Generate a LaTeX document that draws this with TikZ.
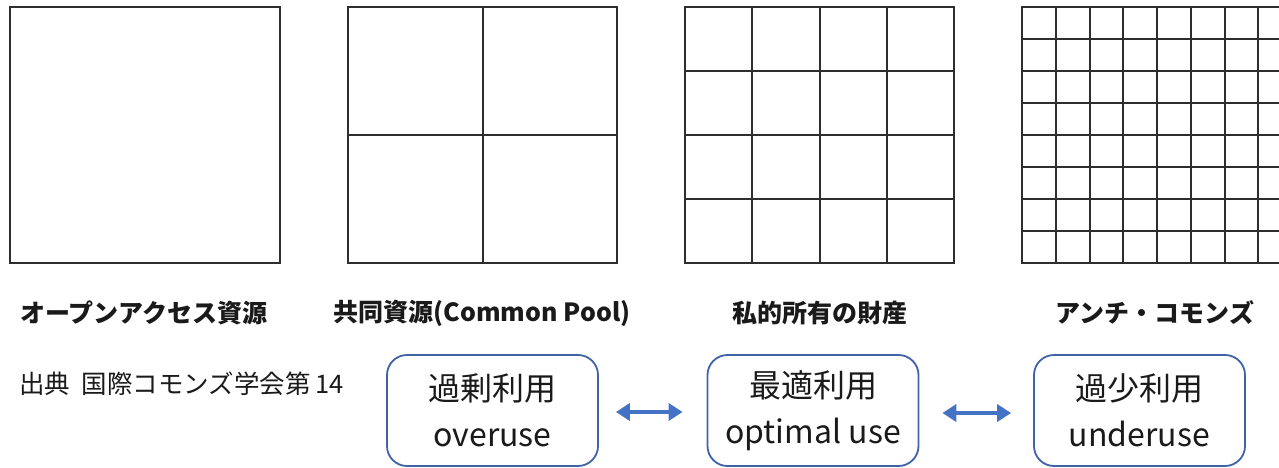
\documentclass[tikz,border=0pt]{standalone}
\usepackage{fontspec}
\setmainfont{Noto Sans CJK JP}
\usetikzlibrary{arrows.meta}
\definecolor{boxblue}{HTML}{3F62A8}
\definecolor{arrowblue}{HTML}{4472C4}
\definecolor{gridgray}{HTML}{2E2E2E}
\definecolor{txt}{HTML}{1A1A1A}
\tikzset{
  gridline/.style={draw=gridgray, line width=2pt},
  catlabel/.style={font=\fontsize{25}{27}\selectfont\bfseries, text=txt, inner sep=0pt},
  usebox/.style={draw=boxblue, line width=1.8pt, rounded corners=20pt, minimum width=211pt, minimum height=111pt, inner sep=0pt, align=center, text=txt, font=\fontsize{32}{46}\selectfont},
  dblarrow/.style={arrowblue, line width=3.5pt, {Triangle[length=14pt,width=17pt]}-{Triangle[length=14pt,width=17pt]}},
}
\begin{document}
\begin{tikzpicture}[x=1pt,y=-1pt]
\useasboundingbox (0,0) rectangle (1279,468);
% grids
\draw[gridline] (10,7) rectangle (280,263);
\draw[gridline] (348,7) rectangle (617,263);
\draw[gridline] (482.5,7) -- (482.5,263);
\draw[gridline] (348,135) -- (617,135);
\draw[gridline] (685,7) rectangle (954,263);
\foreach \i in {1,2,3} {
  \draw[gridline] ({685+\i*269/4},7) -- ({685+\i*269/4},263);
  \draw[gridline] (685,{7+\i*64}) -- (954,{7+\i*64});
}
\begin{scope}
\clip (1000,0) rectangle (1279,468);
\draw[gridline] (1022,7) rectangle (1292,263);
\foreach \i in {1,...,7} {
  \draw[gridline] ({1022+\i*33.75},7) -- ({1022+\i*33.75},263);
  \draw[gridline] (1022,{7+\i*32}) -- (1292,{7+\i*32});
}
\end{scope}
% category labels
\node[catlabel] (l1) at (144,313) {オープンアクセス資源};
\node[catlabel] (l2) at (482,313) {共同資源(Common Pool)};
\node[catlabel] (l3) at (820,313) {私的所有の財産};
\node[catlabel] (l4) at (1155,313) {アンチ・コモンズ};
% source
\node[anchor=west, inner sep=0pt, text=txt, font=\fontsize{25.5}{27}\selectfont] (src) at (19,384) {出典\hspace{0.45em}国際コモンズ学会第\hspace{0.2em}14};
% boxes
\node[usebox] (b1) at (492.5,410.5) {過剰利用\\overuse};
\node[usebox] (b2) at (813,410.5) {最適利用\\optimal use};
\node[usebox] (b3) at (1139.5,410.5) {過少利用\\underuse};
% arrows
\draw[dblarrow, shorten <=17pt, shorten >=24pt] ([yshift=-1.5pt]b1.east) -- ([yshift=-1.5pt]b2.west);
\draw[dblarrow, shorten <=23pt, shorten >=22pt] ([yshift=-2.5pt]b2.east) -- ([yshift=-2.5pt]b3.west);
\end{tikzpicture}
\end{document}
